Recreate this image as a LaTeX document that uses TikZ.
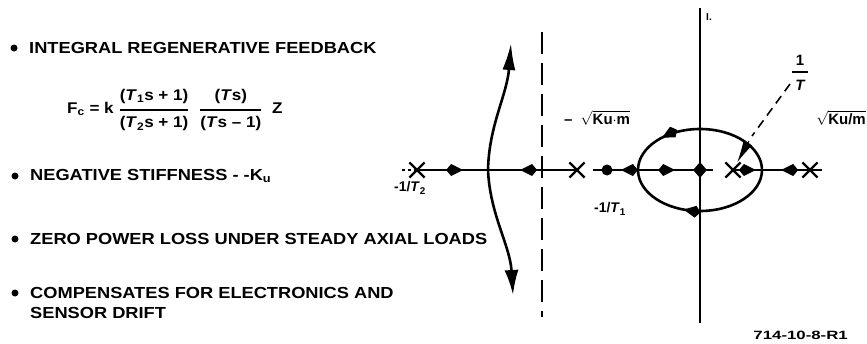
\documentclass[tikz,border=0pt]{standalone}
\usepackage{fontspec}
\setmainfont{Liberation Sans}
\usepackage{amsmath}
\usepackage{graphicx}
\usetikzlibrary{arrows.meta,decorations.markings,shapes.misc,shapes.geometric}
\tikzset{
 locus/.style={line width=2.6pt},
 pole/.style={cross out, draw, line width=2.2pt, minimum size=13pt, inner sep=0pt},
 zerodot/.style={circle, fill, minimum size=11pt, inner sep=0pt},
 zerodia/.style={diamond, fill, minimum width=14pt, minimum height=16pt, inner sep=0pt},
 fwd/.style={postaction={decorate}, decoration={markings, mark=at position #1 with {\arrow{Kite[length=17pt,width=12pt,inset=5pt]}}}},
 txt/.style={anchor=west, inner sep=0pt, font=\bfseries\fontsize{16}{19}\selectfont},
 bul/.style={circle, fill, minimum size=7pt, inner sep=0pt},
 lab/.style={inner sep=0pt, font=\bfseries\fontsize{14}{16}\selectfont},
}
\newcommand\wtext[1]{\scalebox{1.14}[1]{#1}}
\begin{document}
\begin{tikzpicture}[x=1pt,y=-1pt]
\useasboundingbox (0,0) rectangle (867,343);
% ---- left text ----
\node[bul] (b1) at (14,48) {};
\node[txt] (t1) at (29,48) {\wtext{INTEGRAL REGENERATIVE FEEDBACK}};
\node[anchor=west, inner sep=0pt, font=\bfseries\fontsize{15.5}{18}\selectfont] (fc) at (67,110)
 {\scalebox{1.1}[1]{F\textsubscript{c} = k $\genfrac{}{}{1.8pt}{0}{\mbox{(\textit{T}\textsubscript{1}s + 1)}}{\mbox{(\textit{T}\textsubscript{2}s + 1)}}\ \ \genfrac{}{}{1.8pt}{0}{\mbox{(\textit{T}s)}}{\mbox{(\textit{T}s -- 1)}}$ \ Z}};
\node[bul] (b2) at (15,176) {};
\node[txt] (t2) at (30,176) {\wtext{NEGATIVE STIFFNESS - -K\textsubscript{u}}};
\node[bul] (b3) at (15,239) {};
\node[txt] (t3) at (30,239) {\wtext{ZERO POWER LOSS UNDER STEADY AXIAL LOADS}};
\node[bul] (b4) at (15,293) {};
\node[txt] (t4) at (30,293) {\wtext{COMPENSATES FOR ELECTRONICS AND}};
\node[txt] (t5) at (30,313) {\wtext{SENSOR DRIFT}};
% ---- axes ----
\coordinate (ytop) at (700,8); \coordinate (ybot) at (700,323);
\draw[line width=2pt] (ytop) -- (ybot);
\node[font=\bfseries\fontsize{10}{11}\selectfont, inner sep=0pt] (jw) at (709,17) {I.};
\coordinate (atop) at (542,32); \coordinate (abot) at (542,317);
\draw[line width=2pt, dash pattern=on 22pt off 9pt] (atop) -- (abot);
% ---- poles, zeros ----
\node[pole] (p1) at (417,170) {};
\node[pole] (p2) at (577,170) {};
\node[pole] (p3) at (733,170) {};
\node[pole] (p4) at (810,170) {};
\node[zerodot] (z1) at (607,170) {};
\node[zerodia] (z0) at (700,170) {};
\coordinate (ba) at (488,170);
\coordinate (bl) at (638,170);
\coordinate (br) at (762,170);
\coordinate (e1) at (402,170);
\coordinate (e2) at (593,170);
\coordinate (e3) at (713,170);
\coordinate (e4) at (822,170);
% ---- loci ----
\draw[line width=1.2pt, dashed] (e1) -- (p1.center);
\draw[locus, fwd=0.65] (p1.center) -- (ba);
\draw[locus, fwd=0.64] (p2.center) -- (ba);
\draw[locus] (e2) -- (z1.center);
\draw[locus, fwd=0.55] (bl) -- (z1.center);
\draw[locus, fwd=0.6] (bl) -- (z0.center);
\draw[locus] (z0.center) -- (e3);
\draw[locus, fwd=0.79] (p3.center) -- (br);
\draw[locus, fwd=0.6] (p4.center) -- (br);
\draw[locus] (p4.center) -- (e4);
\coordinate (up) at (511,43); \coordinate (dn) at (513,295);
\draw[locus, -{Latex[length=27pt,width=13pt]}] (ba) .. controls (489,125) and (507,95) .. (up);
\draw[locus, -{Latex[length=25pt,width=14pt]}] (ba) .. controls (490,215) and (510,245) .. (dn);
\draw[locus, postaction={decorate}, decoration={markings,
   mark=at position 0.30 with {\arrow{Kite[length=17pt,width=12pt,inset=5pt]}},
   mark=at position 0.63 with {\arrowreversed{Kite[length=17pt,width=12pt,inset=5pt]}}}]
   (700,170) ellipse [x radius=62, y radius=41];
% ---- labels ----
\node[lab, font=\bfseries\fontsize{15}{17}\selectfont] (one) at (800,60) {1};
\coordinate (bar1) at (792,72); \coordinate (bar2) at (808,72);
\draw[line width=2.2pt] (bar1) -- (bar2);
\node[lab, font=\bfseries\itshape\fontsize{15}{17}\selectfont] (tt) at (800,85) {T};
\coordinate (l1) at (790,84); \coordinate (l2) at (752,136);
\draw[line width=1.6pt, dash pattern=on 9pt off 6pt] (l1) -- (l2);
\coordinate (l3) at (749,141);
\draw[line width=1pt, -{Latex[length=22pt,width=10pt]}] (l3) -- (p3);
\node[lab, font=\bfseries\fontsize{15}{17}\selectfont] (m1) at (597,118) {--\ \ $\sqrt{\mbox{Ku$\cdot$m}}$};
\node[lab, anchor=east, font=\bfseries\fontsize{15}{17}\selectfont] (m2) at (866,118) {$\sqrt{\mbox{Ku/m}}$};
\node[lab] (lT2) at (410,188) {-1/\textit{T}\textsubscript{2}};
\node[lab] (lT1) at (610,209) {-1/\textit{T}\textsubscript{1}};
\node[lab, anchor=east, font=\bfseries\fontsize{12}{14}\selectfont] (fig) at (848,335) {\scalebox{1.4}[1]{714-10-8-R1}};
\end{tikzpicture}
\end{document}
